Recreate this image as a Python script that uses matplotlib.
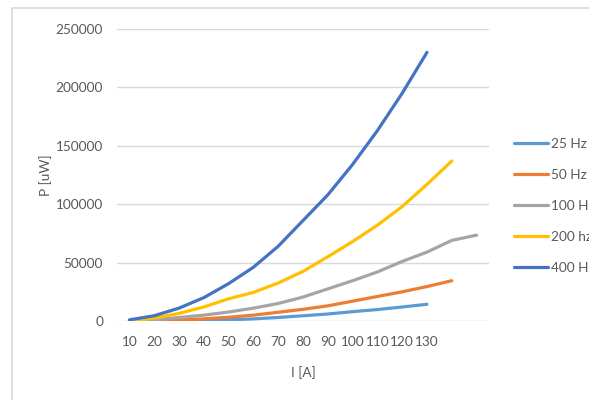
import matplotlib
matplotlib.use("Agg")
import matplotlib.pyplot as plt
from matplotlib.patches import Rectangle

categories = ["10", "20", "30", "40", "50", "60", "70", "80", "90", "100", "110", "120", "130", "", ""]
series_names = ["25 Hz", "50 Hz", "100 Hz", "200 hz", "400 Hz"]
p_25 = [0, 100, 300, 600, 1000, 1800, 3000, 4500, 6000, 8000, 9800, 12000, 14300]
p_50 = [0, 300, 800, 1800, 3200, 5000, 7500, 10000, 13000, 17000, 21000, 25000, 29500, 34500]
p_100 = [0, 1000, 3000, 5000, 7700, 11000, 15000, 20500, 27500, 34500, 42000, 51000, 59000, 69000, 73500]
p_200 = [0, 2500, 6500, 12000, 19000, 24500, 32500, 42500, 55000, 68000, 82000, 98000, 117000, 137000]
p_400 = [1000, 4500, 11000, 20000, 32000, 46000, 64000, 86000, 108000, 134000, 163000, 195000, 230000]
colors = ["#5B9BD5", "#ED7D31", "#A5A5A5", "#FFC000", "#4472C4"]
y_ticks = [0, 50000, 100000, 150000, 200000, 250000]

plt.rcParams['font.family'] = ['Lato', 'DejaVu Sans']
W, H = 589, 400
fig = plt.figure(figsize=(W / 100, H / 100), dpi=100)
fig.patches.append(Rectangle((12 / W, -0.1), 1.2, 1 - 8 / H + 0.1, transform=fig.transFigure,
                             fill=False, edgecolor="#d9d9d9", linewidth=1.2))

ax = fig.add_axes([117 / W, 1 - 321 / H, (489 - 117) / W, (321 - 29) / H])
txt = "#595959"
fs = 9.8
series = [p_25, p_50, p_100, p_200, p_400]
handles = []
for name, vals, c in zip(series_names, series, colors):
    h, = ax.plot(range(len(vals)), vals, color=c, linewidth=2.3, solid_capstyle="round", label=name)
    handles.append(h)

ax.set_xlim(-0.5, len(categories) - 0.5)
ax.set_ylim(0, 250000)
ax.set_yticks(y_ticks)
ax.set_yticklabels([str(v) for v in y_ticks])
ax.set_xticks(range(len(categories)))
ax.set_xticklabels(categories)
ax.grid(axis="y", color="#d9d9d9", linewidth=1.0)
ax.set_axisbelow(True)
for s in ax.spines.values():
    s.set_visible(False)
ax.tick_params(axis="both", length=0, labelsize=fs, colors=txt)
ax.tick_params(axis="y", pad=10)
ax.tick_params(axis="x", pad=11)
ax.set_xlabel("I [A]", fontsize=fs, color=txt, labelpad=13)
ax.set_ylabel("P [uW]", fontsize=fs, color=txt, labelpad=3)

fig.legend(handles=handles, loc="upper left", bbox_to_anchor=(514 / W, 1 - 138 / H),
           frameon=False, fontsize=fs, handlelength=2.5, handletextpad=0.22,
           labelspacing=1.4, borderpad=0, borderaxespad=0, labelcolor=txt)

fig.savefig("out.png", dpi=100)
